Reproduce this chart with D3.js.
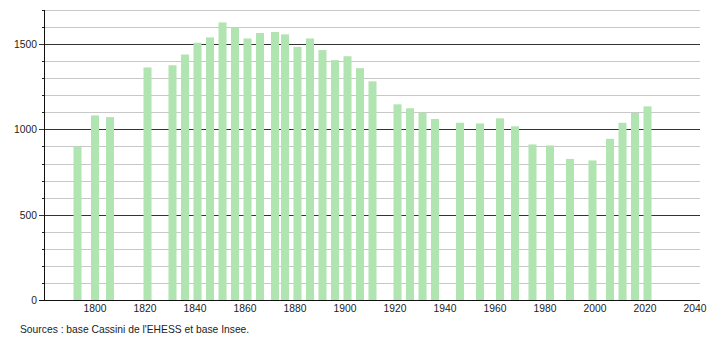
<!DOCTYPE html>
<html>
<head>
<meta charset="utf-8">
<script src="https://cdn.jsdelivr.net/npm/d3@7"></script>
<style>
  body { margin: 0; background: #fff; }
  svg text { font-family: "Liberation Sans", Arial, sans-serif; fill: #222; }
</style>
</head>
<body>
<div id="chart"></div>
<script>
var years = [1793, 1800, 1806, 1821, 1831, 1836, 1841, 1846, 1851, 1856, 1861, 1866, 1872, 1876,
  1881, 1886, 1891, 1896, 1901, 1906, 1911, 1921, 1926, 1931, 1936, 1946, 1954, 1962, 1968,
  1975, 1982, 1990, 1999, 2006, 2011, 2016, 2021];
var population = [900, 1082, 1072, 1363, 1376, 1439, 1508, 1539, 1627, 1598, 1533, 1565, 1571, 1557,
  1484, 1533, 1465, 1406, 1429, 1359, 1282, 1147, 1124, 1098, 1061, 1039, 1035, 1065, 1018,
  912, 906, 827, 818, 945, 1039, 1096, 1135];
var xTicks = [1800, 1820, 1840, 1860, 1880, 1900, 1920, 1940, 1960, 1980, 2000, 2020, 2040];
var yMajor = [0, 500, 1000, 1500];
var yMinor = d3.range(100, 1800, 100);
var source = "Sources : base Cassini de l'EHESS et base Insee.";

var width = 710, height = 340;
var svg = d3.select("#chart").append("svg")
  .attr("width", width)
  .attr("height", height);

var x = d3.scaleLinear().domain([1780, 2042]).range([45, 700]);
var y = d3.scaleLinear().domain([0, 1700]).range([300, 10]);
var fs = 10.3;

// light grid every 100
svg.append("g").selectAll("line")
  .data(yMinor.filter(function (d) { return d % 500 !== 0; }))
  .enter().append("line")
  .attr("x1", 45).attr("x2", 700)
  .attr("y1", function (d) { return Math.round(y(d)) + 0.5; })
  .attr("y2", function (d) { return Math.round(y(d)) + 0.5; })
  .attr("stroke", "#c8c8c8").attr("stroke-width", 1);

// dark grid at major values
svg.append("g").selectAll("line")
  .data(yMajor.filter(function (d) { return d > 0; }))
  .enter().append("line")
  .attr("x1", 39).attr("x2", 700)
  .attr("y1", function (d) { return Math.round(y(d)) + 0.5; })
  .attr("y2", function (d) { return Math.round(y(d)) + 0.5; })
  .attr("stroke", "#333").attr("stroke-width", 1);

// minor ticks
svg.append("g").selectAll("line")
  .data(yMinor.filter(function (d) { return d % 500 !== 0; }))
  .enter().append("line")
  .attr("x1", 42).attr("x2", 45)
  .attr("y1", function (d) { return Math.round(y(d)) + 0.5; })
  .attr("y2", function (d) { return Math.round(y(d)) + 0.5; })
  .attr("stroke", "#222");

// bars
var barW = 8;
svg.append("g").selectAll("rect")
  .data(years)
  .enter().append("rect")
  .attr("x", function (d) { return x(d) - barW / 2; })
  .attr("y", function (d, i) { return y(population[i]); })
  .attr("width", barW)
  .attr("height", function (d, i) { return y(0) - y(population[i]); })
  .attr("fill", "#b0e4b0");

// axes lines
svg.append("line")
  .attr("x1", 44.5).attr("x2", 44.5).attr("y1", 10).attr("y2", 300)
  .attr("stroke", "#111");
svg.append("line")
  .attr("x1", 39).attr("x2", 700).attr("y1", 300.5).attr("y2", 300.5)
  .attr("stroke", "#111");

// y labels
svg.append("g").selectAll("text")
  .data(yMajor)
  .enter().append("text")
  .attr("x", 37)
  .attr("y", function (d) { return y(d) + 4; })
  .attr("text-anchor", "end")
  .attr("font-size", fs)
  .text(function (d) { return d; });

// x labels
svg.append("g").selectAll("text")
  .data(xTicks)
  .enter().append("text")
  .attr("x", function (d) { return x(d); })
  .attr("y", 312)
  .attr("text-anchor", "middle")
  .attr("font-size", fs)
  .text(function (d) { return d; });

svg.append("text")
  .attr("x", 20).attr("y", 333)
  .attr("font-size", fs)
  .text(source);
</script>
</body>
</html>
